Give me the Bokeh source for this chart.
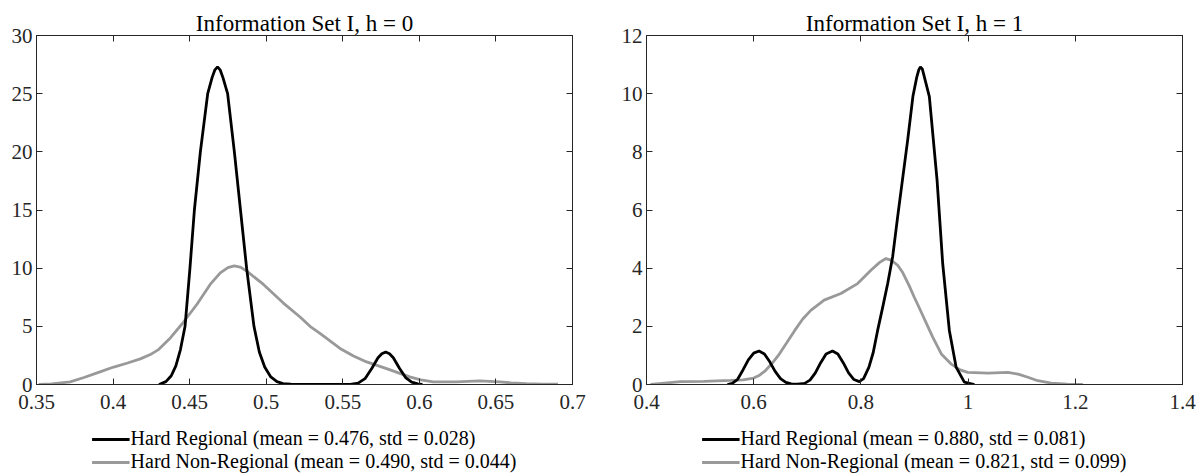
from bokeh.plotting import figure
from bokeh.layouts import row, column
from bokeh.models import (LinearAxis, FixedTicker, CustomJSTickFormatter, Legend,
                          LegendItem, Range1d)
from bokeh.embed import file_html
from bokeh.resources import INLINE

# ---------------- data ----------------
# Panel 1: Information Set I, h = 0
h0_reg_x = [0.430, 0.4345, 0.438, 0.441, 0.444, 0.4470, 0.4502, 0.4531, 0.4570, 0.4618,
            0.4647, 0.4665, 0.4682, 0.4699, 0.4717, 0.4748, 0.4792, 0.4832, 0.4872, 0.4920,
            0.4955, 0.4990, 0.503, 0.507, 0.511, 0.516, 0.525, 0.540, 0.555, 0.560, 0.5645,
            0.569, 0.573, 0.5755, 0.578, 0.5805, 0.583, 0.587, 0.591, 0.595, 0.599, 0.602]
h0_reg_y = [0.0, 0.25, 0.75, 1.6, 3.0, 5.0, 10.0, 15.0, 20.0, 25.0,
            26.4, 27.05, 27.3, 27.05, 26.4, 25.0, 20.0, 15.0, 10.0, 5.0,
            2.8, 1.5, 0.65, 0.25, 0.08, 0.02, 0.0, 0.0, 0.0, 0.12, 0.5,
            1.4, 2.3, 2.65, 2.8, 2.65, 2.3, 1.4, 0.6, 0.2, 0.05, 0.0]
h0_non_x = [0.3515, 0.360, 0.372, 0.381, 0.3896, 0.4004, 0.4095, 0.4178, 0.4240, 0.4297,
            0.4374, 0.4450, 0.4548, 0.4634, 0.4700, 0.4750, 0.4791, 0.4830, 0.4873, 0.4982,
            0.5112, 0.5221, 0.5286, 0.5351, 0.5482, 0.5570, 0.5656, 0.5786, 0.5937, 0.6010,
            0.6090, 0.6242, 0.6394, 0.6525, 0.6600, 0.6699, 0.6800, 0.6905]
h0_non_y = [0.0, 0.05, 0.23, 0.6, 1.0, 1.5, 1.85, 2.2, 2.55, 3.0,
            4.0, 5.2, 6.9, 8.6, 9.6, 10.05, 10.2, 10.1, 9.75, 8.6,
            7.0, 5.8, 5.0, 4.4, 3.1, 2.45, 1.94, 1.37, 0.65, 0.4,
            0.22, 0.22, 0.31, 0.22, 0.14, 0.08, 0.04, 0.02]

# Panel 2: Information Set I, h = 1
h1_reg_x = [0.551, 0.560, 0.570, 0.580, 0.590, 0.600, 0.610, 0.620, 0.630, 0.640,
            0.650, 0.660, 0.670, 0.682, 0.695, 0.705, 0.715, 0.725, 0.735, 0.747,
            0.757, 0.767, 0.777, 0.787, 0.797, 0.805, 0.815, 0.823, 0.8312, 0.840,
            0.850, 0.8593, 0.8686, 0.8873, 0.8970, 0.9040, 0.9080, 0.911, 0.9145, 0.918,
            0.9277, 0.9421, 0.9526, 0.965, 0.9776, 0.993, 1.0118]
h1_reg_y = [0.0, 0.04, 0.18, 0.5, 0.85, 1.08, 1.15, 1.05, 0.78, 0.45,
            0.2, 0.07, 0.02, 0.01, 0.04, 0.15, 0.4, 0.75, 1.05, 1.15,
            1.05, 0.75, 0.4, 0.17, 0.1, 0.2, 0.6, 1.1, 1.86, 2.6,
            3.47, 4.4, 5.77, 8.41, 9.9, 10.55, 10.82, 10.92, 10.85, 10.6,
            9.9, 7.03, 4.16, 1.86, 0.6, 0.08, 0.0]
h1_non_x = [0.4075, 0.4636, 0.507, 0.557, 0.580, 0.600, 0.611, 0.622, 0.634, 0.646,
            0.661, 0.6766, 0.6915, 0.7065, 0.7314, 0.7626, 0.7938, 0.8187, 0.835, 0.8467,
            0.8570, 0.8686, 0.878, 0.890, 0.8996, 0.906, 0.934, 0.950, 0.968, 0.985,
            0.9994, 1.037, 1.0742, 1.095, 1.1116, 1.13, 1.155, 1.185, 1.214]
h1_non_y = [0.0, 0.1, 0.11, 0.14, 0.16, 0.22, 0.32, 0.48, 0.72, 1.0,
            1.42, 1.86, 2.25, 2.55, 2.9, 3.13, 3.47, 3.93, 4.2, 4.33,
            4.27, 4.1, 3.85, 3.4, 3.0, 2.75, 1.63, 1.05, 0.71, 0.5,
            0.42, 0.39, 0.42, 0.35, 0.25, 0.13, 0.05, 0.01, 0.0]

titles = ["Information Set I, h = 0", "Information Set I, h = 1"]
labels_h0 = ["Hard Regional (mean = 0.476, std = 0.028)",
             "Hard Non-Regional (mean = 0.490, std = 0.044)"]
labels_h1 = ["Hard Regional (mean = 0.880, std = 0.081)",
             "Hard Non-Regional (mean = 0.821, std = 0.099)"]
xticks_h0 = [0.35, 0.4, 0.45, 0.5, 0.55, 0.6, 0.65, 0.7]
yticks_h0 = [0, 5, 10, 15, 20, 25, 30]
xticks_h1 = [0.4, 0.6, 0.8, 1.0, 1.2, 1.4]
yticks_h1 = [0, 2, 4, 6, 8, 10, 12]
xrange_h0 = (0.35, 0.7)
yrange_h0 = (0, 30)
xrange_h1 = (0.4, 1.4)
yrange_h1 = (0, 12)

# ---------------- style ----------------
FONT = "Liberation Serif"
AX = "#262626"
GRAY = "#999999"
FS = "21px"      # tick labels
TFS = "23px"     # titles
LFS = "20px"     # legend
LW = 2.8


def style_axis(ax, ticks, show_labels=True, standoff=6):
    ax.ticker = FixedTicker(ticks=ticks)
    ax.axis_line_color = AX
    ax.axis_line_width = 1
    ax.major_tick_line_color = AX
    ax.major_tick_in = 6
    ax.major_tick_out = 0
    ax.minor_tick_line_color = None
    ax.major_label_text_font = FONT
    ax.major_label_text_font_size = FS
    ax.major_label_text_color = AX
    ax.major_label_standoff = standoff
    if show_labels:
        ax.formatter = CustomJSTickFormatter(
            code="return (Math.round(tick*10000)/10000).toString();")
    else:
        ax.formatter = CustomJSTickFormatter(code="return '';")
        ax.major_label_text_color = None


def make_panel(title, xr, yr, xt, yt, rx, ry, nx, ny, labels, width, bl, br):
    p = figure(width=width, height=425, x_range=Range1d(*xr), y_range=Range1d(*yr),
               output_backend="svg", toolbar_location=None, title=title,
               min_border_left=bl, min_border_right=br, min_border_top=35,
               min_border_bottom=41)
    p.title.text_font = FONT
    p.title.text_font_size = TFS
    p.title.text_font_style = "normal"
    p.title.text_color = "black"
    p.title.align = "center"
    p.title.standoff = 0
    p.title.offset = 0
    p.xgrid.visible = False
    p.ygrid.visible = False
    p.outline_line_color = AX
    p.outline_line_width = 1
    p.background_fill_color = "white"
    p.border_fill_color = "white"

    style_axis(p.xaxis[0], xt, True, 10)
    style_axis(p.yaxis[0], yt, True, 4)
    top = LinearAxis()
    style_axis(top, xt, False, 3)
    p.add_layout(top, "above")
    right = LinearAxis()
    style_axis(right, yt, False, 0)
    p.add_layout(right, "right")

    p.line(nx, ny, line_color=GRAY, line_width=LW)
    p.line(rx, ry, line_color="black", line_width=LW)

    # legend strip below the panel (same borders so it centres on the frame)
    lf = figure(width=width, height=48, output_backend="svg", toolbar_location=None,
                x_axis_type=None, y_axis_type=None, x_range=Range1d(*xr),
                y_range=Range1d(*yr), min_border_left=bl, min_border_right=br,
                min_border_top=0, min_border_bottom=0)
    lf.outline_line_color = None
    lf.xgrid.visible = False
    lf.ygrid.visible = False
    lf.background_fill_color = "white"
    lf.border_fill_color = "white"
    l_reg = lf.line(rx[:1], ry[:1], line_color="black", line_width=LW)
    l_non = lf.line(nx[:1], ny[:1], line_color=GRAY, line_width=LW)
    legend = Legend(items=[LegendItem(label=labels[0], renderers=[l_reg]),
                           LegendItem(label=labels[1], renderers=[l_non])],
                    location="top_center", orientation="vertical")
    legend.label_text_font = FONT
    legend.label_text_font_size = LFS
    legend.label_text_color = "black"
    legend.glyph_width = 38
    legend.glyph_height = 20
    legend.label_height = 20
    legend.spacing = 0
    legend.label_standoff = 1
    legend.padding = 0
    legend.margin = 2
    legend.border_line_color = None
    legend.background_fill_alpha = 0
    lf.add_layout(legend, "center")
    return column(p, lf, spacing=0)


p1 = make_panel(titles[0], xrange_h0, yrange_h0, xticks_h0, yticks_h0,
                h0_reg_x, h0_reg_y, h0_non_x, h0_non_y, labels_h0, 609, 36, 37)
p2 = make_panel(titles[1], xrange_h1, yrange_h1, xticks_h1, yticks_h1,
                h1_reg_x, h1_reg_y, h1_non_x, h1_non_y, labels_h1, 593, 37, 20)

layout = row(p1, p2, spacing=0)
open("out.html", "w").write(file_html(layout, INLINE))
